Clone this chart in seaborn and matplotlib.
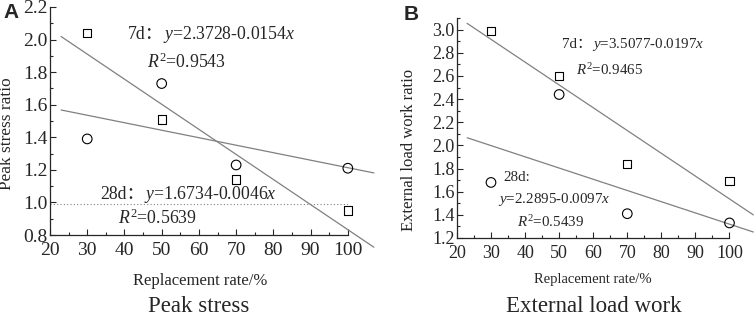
import numpy as np
import pandas as pd
import matplotlib
matplotlib.use("Agg")
import matplotlib.pyplot as plt
import seaborn as sns
from matplotlib.ticker import MultipleLocator

# data
rate = [30, 50, 70, 100]
peak_7d = [2.04, 1.51, 1.14, 0.95]
peak_28d = [1.39, 1.73, 1.23, 1.21]
work_7d = [2.99, 2.60, 1.84, 1.69]
work_28d = [1.68, 2.44, 1.41, 1.33]

# fitted lines (intercept, slope) as printed on the chart
fit_peak_7d = (2.3728, -0.0154)
fit_peak_28d = (1.6734, -0.0046)
fit_work_7d = (3.5077, -0.0197)
fit_work_28d = (2.2895, -0.0097)
fit_x = [23, 107]

sns.set_style("ticks")
plt.rcParams['font.family'] = ['Liberation Serif', 'Noto Sans CJK SC']
plt.rcParams['mathtext.fontset'] = 'custom'
plt.rcParams['mathtext.rm'] = 'Liberation Serif'
plt.rcParams['mathtext.it'] = 'Liberation Serif:italic'

fig = plt.figure(figsize=(7.54, 3.18), dpi=100)
axA = fig.add_axes([0.0663, 0.261, 0.395, 0.717])
axB = fig.add_axes([0.606, 0.2516, 0.3615, 0.6914])


def draw(ax, d7, d28, f7, f28, tsize):
    df = pd.DataFrame({"rate": rate, "d7": d7, "d28": d28})
    sns.scatterplot(data=df, x="rate", y="d7", marker="s", s=36,
                    facecolor="none", edgecolor="black", linewidth=0.8, ax=ax,
                    zorder=3, clip_on=False)
    sns.scatterplot(data=df, x="rate", y="d28", marker="o", s=48,
                    facecolor="none", edgecolor="black", linewidth=0.8, ax=ax,
                    zorder=3, clip_on=False)
    for a, b in (f7, f28):
        fx = np.array(fit_x, dtype=float)
        ax.plot(fx, a + b * fx, color="#808080", lw=0.9, clip_on=False)
    ax.set_xlim(20, 100)
    ax.xaxis.set_major_locator(MultipleLocator(10))
    ax.xaxis.set_minor_locator(MultipleLocator(5))
    ax.yaxis.set_major_locator(MultipleLocator(0.2))
    ax.yaxis.set_minor_locator(MultipleLocator(0.1))
    ax.tick_params(which="both", direction="in", width=0.8)
    ax.tick_params(which="major", length=4, labelsize=tsize)
    ax.tick_params(axis="x", which="major", pad=5)
    ax.tick_params(axis="y", which="major", pad=1.5)
    ax.tick_params(which="minor", length=2.5)
    sns.despine(ax=ax)
    for sp in ("left", "bottom"):
        ax.spines[sp].set_linewidth(0.9)


def label(ax, x, y, head, rest, size):
    # head holds the full-width colon, so it goes through the font fallback list
    t = ax.text(x, y, head, fontsize=size, va="center")
    ax.annotate(rest, xy=(1, 0.5), xycoords=t, fontsize=size, va="center")


draw(axA, peak_7d, peak_28d, fit_peak_7d, fit_peak_28d, 14)
axA.set_ylim(0.8, 2.2)
axA.plot([20, 102.5], [0.99, 0.99], color="#808080", lw=0.8, ls=(0, (1, 2)))
axA.set_xlabel("Replacement rate/%", fontsize=12)
axA.set_ylabel("Peak stress ratio", fontsize=12.4)
axA.xaxis.set_label_coords(0.503, -0.165)
axA.yaxis.set_label_coords(-0.117, 0.443)
label(axA, 40.9, 2.03, "7d：", "$y$=2.3728-0.0154$x$", 12.8)
axA.text(46, 1.86, "$R^2$=0.9543", fontsize=12.8, va="center")
label(axA, 33.4, 1.05, "28d：", "$y$=1.6734-0.0046$x$", 12.8)
axA.text(38.2, 0.9, "$R^2$=0.5639", fontsize=12.8, va="center")

draw(axB, work_7d, work_28d, fit_work_7d, fit_work_28d, 13)
axB.set_ylim(1.2, 3.1)
axB.set_xlabel("Replacement rate/%", fontsize=10.5)
axB.set_ylabel("External load work ratio", fontsize=12)
axB.xaxis.set_label_coords(0.5, -0.16)
axB.yaxis.set_label_coords(-0.147, 0.4)
label(axB, 50.8, 2.87, "7d：", "$y$=3.5077-0.0197$x$", 10.8)
axB.text(54.9, 2.65, "$R^2$=0.9465", fontsize=10.8, va="center")
axB.text(33.5, 1.72, "28d:", fontsize=10.8, va="center")
axB.text(32, 1.53, "$y$=2.2895-0.0097$x$", fontsize=10.8, va="center")
axB.text(37.6, 1.34, "$R^2$=0.5439", fontsize=10.8, va="center")

fig.text(0.004, 0.96, "A", fontsize=15, fontweight="bold",
         family="Liberation Sans", va="center")
fig.text(0.535, 0.955, "B", fontsize=15, fontweight="bold",
         family="Liberation Sans", va="center")
fig.text(0.263, 0.035, "Peak stress", fontsize=16.5, ha="center", va="center")
fig.text(0.788, 0.035, "External load work", fontsize=16.5, ha="center", va="center")

fig.savefig("out.png", dpi=100)
